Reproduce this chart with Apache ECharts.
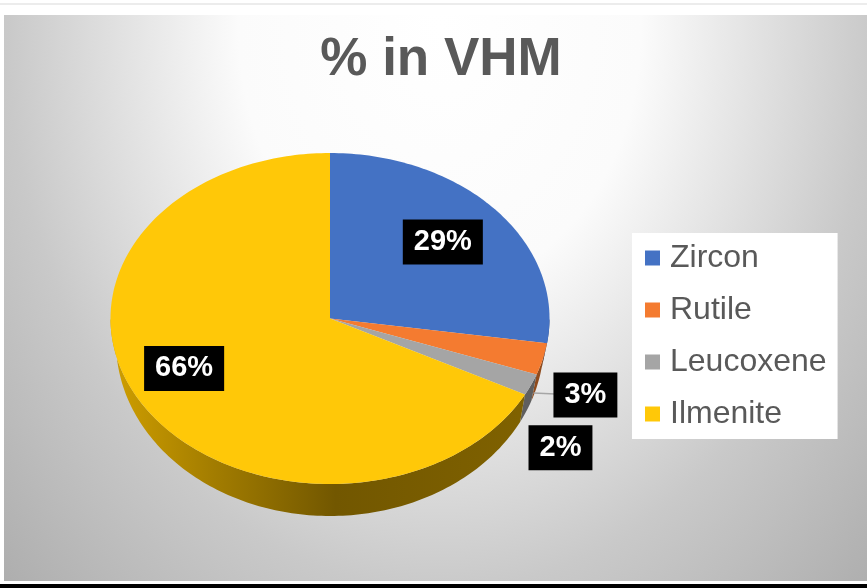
<!DOCTYPE html>
<html>
<head>
<meta charset="utf-8">
<title>% in VHM</title>
<style>
  html, body { margin: 0; padding: 0; background: #fff; }
  #grid { width: 867px; height: 588px; }
</style>
<script src="https://cdn.jsdelivr.net/npm/echarts@6/dist/echarts.min.js"></script>
</head>
<body>
<div id="grid"></div>
<script>
const categories = ['Zircon', 'Rutile', 'Leucoxene', 'Ilmenite'];
const values = [29, 3, 2, 66];

const colors = ['#4472c4', '#f47b30', '#a5a5a5', '#ffc808'];
const fontFamily = '"Liberation Sans", Arial, sans-serif';

// top face of the tilted pie and the smaller rim ellipse under it
const face = { cx: 330, cy: 318.5, rx: 219.5, ry: 165.5 };
const rim = { cx: 330, cy: 342, rx: 214, ry: 174 };
// the original is drawn in perspective, so slices on the right look a bit narrower
const skew = (6 * Math.PI) / 180;

const labelRadius = [0.71, 1.2, 1.2, 0.71];
const labelShift = [[-2, 3], [0, 28], [-11, 50], [-3, 3]];

const wallColors = [
  '#2c4a80',
  '#8f4b1d',
  '#5f5f5f',
  {
    type: 'linear',
    global: true,
    x: 110,
    y: 0,
    x2: 520,
    y2: 0,
    colorStops: [
      { offset: 0, color: '#d09f00' },
      { offset: 0.25, color: '#a37d00' },
      { offset: 0.55, color: '#725700' },
      { offset: 1, color: '#7f6100' },
    ],
  },
];

const total = values.reduce((a, b) => a + b, 0);

function angleAt(share) {
  const t = share * 2 * Math.PI;
  return t - skew * Math.sin(t);
}

function pointOn(e, t) {
  return [e.cx + e.rx * Math.sin(t), e.cy - e.ry * Math.cos(t)];
}

function arc(e, from, to) {
  const steps = Math.max(2, Math.ceil(Math.abs(to - from) / 0.02));
  const points = [];
  for (let i = 0; i <= steps; i++) {
    points.push(pointOn(e, from + ((to - from) * i) / steps));
  }
  return points;
}

function sliceRange(index) {
  const before = values.slice(0, index).reduce((a, b) => a + b, 0);
  return [angleAt(before / total), angleAt((before + values[index]) / total)];
}

function renderSlice(index) {
  return (params, api) => {
    const [from, to] = sliceRange(index);
    return {
      type: 'polygon',
      shape: { points: [[face.cx, face.cy], ...arc(face, from, to)] },
      style: { fill: api.visual('color') },
    };
  };
}

function renderWall(params) {
  const [from, to] = sliceRange(params.dataIndex);
  // only the front half of the rim can be seen
  const a = Math.max(from, Math.PI / 2);
  const b = Math.min(to, (3 * Math.PI) / 2);
  if (b <= a) {
    return null;
  }
  return {
    type: 'polygon',
    shape: { points: [...arc(face, a, b), ...arc(rim, b, a)] },
    style: { fill: wallColors[params.dataIndex] },
  };
}

function renderLabel(params, api) {
  const i = params.dataIndex;
  const before = values.slice(0, i).reduce((a, b) => a + b, 0);
  const mid = angleAt((before + values[i] / 2) / total);
  const f = labelRadius[i];
  const x = face.cx + face.rx * f * Math.sin(mid) + labelShift[i][0];
  const y = face.cy - face.ry * f * Math.cos(mid) + labelShift[i][1];
  const children = [];
  if (i === 1) {
    children.push({
      type: 'line',
      shape: { x1: x - 52, y1: y - 2, x2: x - 30, y2: y - 1 },
      style: { stroke: '#a6a6a6', lineWidth: 1.5 },
    });
  }
  children.push({
    type: 'text',
    style: {
      text: api.value(0) + '%',
      x: x,
      y: y,
      align: 'center',
      verticalAlign: 'middle',
      font: 'bold 29px ' + fontFamily,
      fill: '#fff',
      backgroundColor: '#000',
      padding: [8, 11, 8, 11],
    },
  });
  return { type: 'group', children: children };
}

const myChart = echarts.init(document.getElementById('grid'), null, { renderer: 'canvas' });

const option = {
  animation: false,
  title: {
    text: '% in VHM',
    left: 436,
    top: 29,
    textAlign: 'center',
    textStyle: {
      color: '#595959',
      fontFamily: fontFamily,
      fontWeight: 'bold',
      fontSize: 53,
    },
  },
  legend: {
    orient: 'vertical',
    left: 632,
    top: 233,
    padding: [8, 11, 8, 13],
    backgroundColor: '#fff',
    icon: 'rect',
    itemWidth: 15,
    itemHeight: 15,
    itemGap: 18,
    selectedMode: false,
    data: categories,
    textStyle: {
      color: '#595959',
      fontFamily: fontFamily,
      fontSize: 32,
      lineHeight: 30,
      padding: [4, 0, 0, 5],
    },
  },
  graphic: [
    {
      type: 'rect',
      z: -10,
      silent: true,
      shape: { x: 0, y: 3, width: 867, height: 2 },
      style: { fill: '#ececec' },
    },
    {
      // wider than tall: drawn 1.3x too wide and squeezed back so the gradient is an ellipse
      type: 'rect',
      z: -10,
      silent: true,
      x: 4,
      y: 15,
      scaleX: 1 / 1.3,
      shape: { x: 0, y: 0, width: 863 * 1.3, height: 566 },
      style: {
        fill: {
          type: 'radial',
          x: 0.505,
          y: 0.02,
          r: 1.4,
          colorStops: [
            { offset: 0, color: '#ffffff' },
            { offset: 0.33, color: '#fbfbfb' },
            { offset: 0.71, color: '#c9c9c9' },
            { offset: 1, color: '#aeaeae' },
          ],
        },
      },
    },
    {
      type: 'rect',
      z: -10,
      silent: true,
      shape: { x: 0, y: 584, width: 867, height: 4 },
      style: { fill: '#000' },
    },
  ],
  series: [
    {
      type: 'custom',
      name: 'side',
      coordinateSystem: 'none',
      silent: true,
      z: 1,
      data: values.map((v) => [v]),
      renderItem: renderWall,
    },
    ...categories.map((name, i) => ({
      type: 'custom',
      name: name,
      coordinateSystem: 'none',
      silent: true,
      z: 2,
      itemStyle: { color: colors[i] },
      data: [[values[i]]],
      renderItem: renderSlice(i),
    })),
    {
      type: 'custom',
      name: 'labels',
      coordinateSystem: 'none',
      silent: true,
      z: 3,
      data: values.map((v) => [v]),
      renderItem: renderLabel,
    },
  ],
};

myChart.setOption(option);
</script>
</body>
</html>
